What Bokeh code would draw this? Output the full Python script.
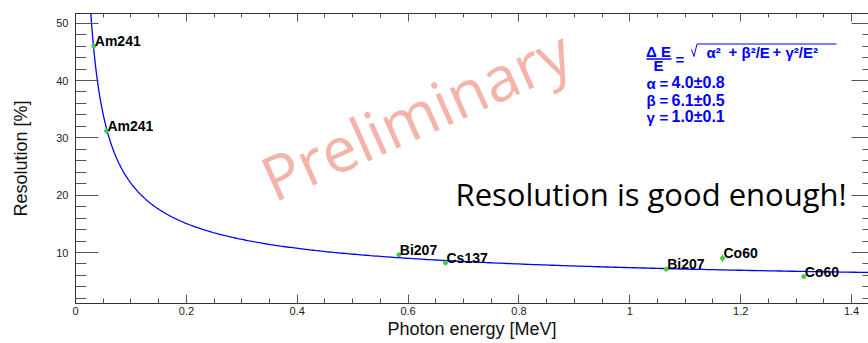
import math
import numpy as np
from bokeh.plotting import figure
from bokeh.models import (Label, SingleIntervalTicker, LinearAxis, Range1d,
                          PrintfTickFormatter, ColumnDataSource, CustomJSTickFormatter)
from bokeh.embed import file_html
from bokeh.resources import INLINE
from bokeh.core.properties import value

# ---------------- data ----------------
sources = ["Am241", "Am241", "Bi207", "Cs137", "Bi207", "Co60", "Co60"]
energy = [0.0330, 0.0559, 0.5833, 0.6675, 1.0657, 1.1672, 1.3139]      # MeV
resolution = [46.0, 31.2, 9.6, 8.2, 7.1, 9.0, 5.8]                      # %
res_err = [0.4, 0.4, 0.3, 0.3, 0.3, 0.7, 0.3]

# fit parameters shown on the chart
alpha_fit, alpha_err = 4.0, 0.8
beta_fit, beta_err = 6.1, 0.5
gamma_fit, gamma_err = 1.0, 0.1

x_lo, x_hi = 0.0, 1.4306
y_lo, y_hi = 1.11, 51.69

FONT = "Liberation Sans"
BLUE = "#0000ff"
GREEN = "#44cc44"

W, H = 868, 343
FL, FR, FT, FB = 75, 868, 13, 303   # frame edges in page pixels

def dx(px):
    return x_lo + (px - FL) / (FR - FL) * (x_hi - x_lo)

def dy(py):
    return y_lo + (FB - py) / (FB - FT) * (y_hi - y_lo)

p = figure(width=W, height=H, output_backend="svg", toolbar_location=None,
           x_range=Range1d(x_lo, x_hi), y_range=Range1d(y_lo, y_hi),
           min_border_left=FL, min_border_right=W - FR, min_border_top=FT,
           min_border_bottom=H - FB, x_axis_location=None, y_axis_location=None)
p.outline_line_color = None
p.xgrid.visible = False
p.ygrid.visible = False
p.background_fill_color = "white"
p.border_fill_color = "white"

AX_COL = "#333333"
TK_COL = "#555555"

def style(ax):
    ax.axis_line_color = AX_COL
    ax.major_tick_line_color = TK_COL
    ax.minor_tick_line_color = TK_COL
    ax.major_tick_out = 0
    ax.minor_tick_out = 0
    ax.major_label_text_font = FONT
    ax.major_label_text_font_size = "11px"
    ax.major_label_text_color = "#222222"
    ax.axis_label_text_font = FONT
    ax.axis_label_text_font_style = "normal"
    ax.axis_label_text_font_size = "18px"
    ax.axis_label_text_color = "#111111"

xb = LinearAxis(ticker=SingleIntervalTicker(interval=0.2, num_minor_ticks=4),
                formatter=PrintfTickFormatter(format="%.3g"),
                axis_label="Photon energy [MeV]")
style(xb)
xb.major_tick_in = 9
xb.minor_tick_in = 5
xb.major_label_standoff = 3
xb.axis_label_standoff = 1
p.add_layout(xb, "below")

yl = LinearAxis(ticker=SingleIntervalTicker(interval=10, num_minor_ticks=5),
                axis_label="Resolution [%]")
style(yl)
yl.major_tick_in = 23
yl.minor_tick_in = 11
yl.major_label_standoff = 7
yl.axis_label_standoff = 22
p.add_layout(yl, "left")

blank = CustomJSTickFormatter(code="return '';")

xt = LinearAxis(ticker=SingleIntervalTicker(interval=0.2, num_minor_ticks=4), formatter=blank)
style(xt)
xt.major_tick_in = 8
xt.minor_tick_in = 4
xt.major_label_text_font_size = "0px"
xt.major_label_standoff = 0
p.add_layout(xt, "above")

yr = LinearAxis(ticker=SingleIntervalTicker(interval=10, num_minor_ticks=5),
                formatter=CustomJSTickFormatter(code="return '';"))
style(yr)
yr.axis_line_color = None
yr.major_tick_in = 17
yr.minor_tick_in = 6
yr.major_label_text_font_size = "0px"
yr.major_label_standoff = 0
p.add_layout(yr, "right")

SH = 0.36  # renderer places the 'alphabetic' anchor this many em above the baseline

def label(px, py, text, fs, font, color, align="left", style_="normal", angle=0.0):
    a = math.radians(angle)
    c = SH * fs
    ax_, ay_ = px - c * math.sin(a), py - c * math.cos(a)
    p.add_layout(Label(x=dx(ax_), y=dy(ay_), text=text, angle=angle, angle_units="deg",
                       text_font=font, text_font_size="%gpx" % fs, text_color=color,
                       text_font_style=style_, text_align=align, text_baseline="alphabetic"))

# watermark and comment
label(273, 201, "Preliminary", 62, "Open Sans", "#f4b4aa", angle=24)
label(455, 205, "Resolution is good enough!", 31, "Open Sans", "#000000")

# fit curve from the displayed parameters
E_curve = np.geomspace(0.024, 1.5, 500)
res_curve = np.sqrt(alpha_fit ** 2 + beta_fit ** 2 / E_curve + gamma_fit ** 2 / E_curve ** 2)
p.line(E_curve, res_curve, line_color=BLUE, line_width=1.3)

# data points with error bars
src = ColumnDataSource(dict(x=energy, y=resolution, name=sources,
                            lo=[r - e for r, e in zip(resolution, res_err)],
                            hi=[r + e for r, e in zip(resolution, res_err)]))
p.segment(x0="x", y0="lo", x1="x", y1="hi", source=src, line_color=GREEN, line_width=1)
p.scatter(x="x", y="y", source=src, size=4, color=GREEN)
p.text(x="x", y="y", text="name", source=src, text_font=value(FONT), text_font_style="bold",
       text_font_size="14px", text_color="#000000", text_align="left",
       text_baseline="alphabetic", x_offset=1, y_offset=-5)

# formula box
def ftext(px, py, t, align="left", fs=15):
    label(px, py, t, fs, FONT, BLUE, align=align, style_="bold")

ftext(658, 56, "\u0394 E", "center")
p.line([dx(646), dx(671)], [dy(58.5), dy(58.5)], line_color=BLUE, line_width=1.5)
ftext(658, 70, "E", "center")
ftext(675, 64, "=")
p.line([dx(691), dx(693.5), dx(696.5), dx(836)], [dy(49), dy(56), dy(43.5), dy(43.5)],
       line_color=BLUE, line_width=1)
ftext(706, 57, "\u03b1\u00b2")
ftext(728, 57, "+")
ftext(741, 57, "\u03b2\u00b2/E")
ftext(772, 57, "+")
ftext(785, 57, "\u03b3\u00b2/E\u00b2")

for py, sym, val, err in [(88, "\u03b1", alpha_fit, alpha_err),
                          (105.5, "\u03b2", beta_fit, beta_err),
                          (122, "\u03b3", gamma_fit, gamma_err)]:
    ftext(646, py, sym)
    ftext(659, py, "=")
    ftext(671, py, "%.1f\u00b1%.1f" % (val, err), fs=16)

open("out.html", "w").write(file_html(p, INLINE))
